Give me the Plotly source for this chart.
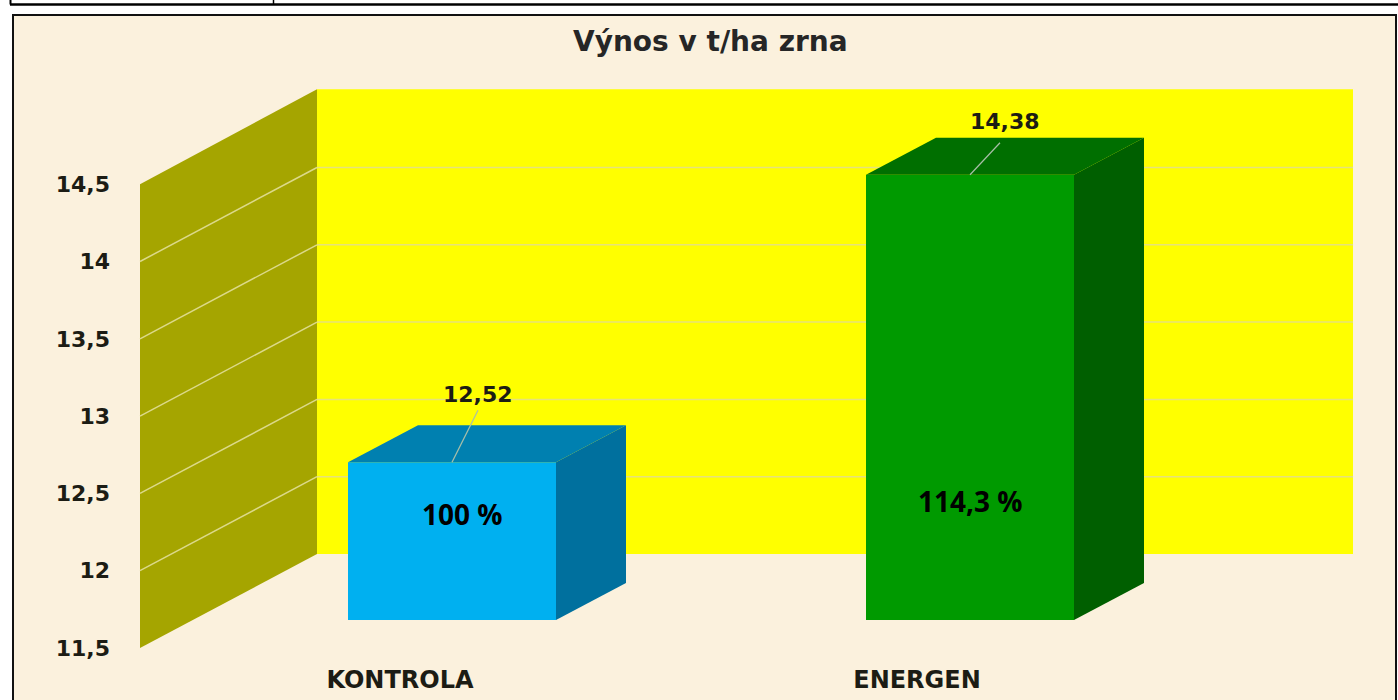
import plotly.graph_objects as go

# --- data ---
categories = ["KONTROLA", "ENERGEN"]
values = [12.52, 14.38]
percent_labels = ["100 %", "114,3 %"]
value_labels = ["12,52", "14,38"]
tick_values = [11.5, 12, 12.5, 13, 13.5, 14, 14.5]
tick_labels = ["11,5", "12", "12,5", "13", "13,5", "14", "14,5"]
front_colors = ["#00b0f0", "#009a00"]
top_colors = ["#0080b0", "#006f00"]
side_colors = ["#00709e", "#005f00"]
title = "Výnos v t/ha zrna"

# --- scales: pixels per x unit / per value unit ---
W, H = 1398, 700
PX_X, PX_Y = 518.0, 154.6
BASE = tick_values[0]
TOP = tick_values[-1]
X0_PX, Y0_PX = 452.0, 620.0      # category 0 / value BASE in the bar plane
ux = lambda px: px / PX_X
uy = lambda px: px / PX_Y

bar_w = ux(208)
bar_dx, bar_dy = ux(70), uy(37)
wall_x = ux(140 - X0_PX)
wall_lift = uy(28)                # front edge of wall lies below the bar plane
wall_dx, wall_dy = ux(177), uy(94)
back_right = ux(1353 - X0_PX)

WALL = "#a5a500"
BACK = "#ffff00"
GRID_BACK = "#e6e27a"
GRID_WALL = "#dcd98a"
PAPER = "#fbf1dd"
INK = "#1c1c14"
AXFONT = dict(family="DejaVu Sans", size=22, color=INK, weight="bold")

fig = go.Figure()


def poly(xs, ys, color):
    fig.add_trace(go.Scatter(x=xs, y=ys, mode="lines", fill="toself", fillcolor=color,
                             line=dict(width=0, color=color), hoverinfo="skip", showlegend=False))


def line(xs, ys, color, width=1.5):
    fig.add_trace(go.Scatter(x=xs, y=ys, mode="lines", line=dict(color=color, width=width),
                             hoverinfo="skip", showlegend=False))


def below_path(xs, ys, fill=None, color=None, width=0):
    d = "M " + " L ".join(f"{x},{y}" for x, y in zip(xs, ys)) + (" Z" if fill else "")
    return dict(type="path", xref="x", yref="y", path=d, layer="below",
                fillcolor=fill if fill else "rgba(0,0,0,0)",
                line=dict(color=color if color else "rgba(0,0,0,0)", width=width))


# walls and grid sit below the bar layer, on the bar-plane axes, shifted for depth
fy = lambda v: v - wall_lift
bx = wall_x + wall_dx
wall_shapes = [
    below_path([bx, back_right, back_right, bx],
               [fy(BASE) + wall_dy, fy(BASE) + wall_dy, fy(TOP) + wall_dy + uy(1), fy(TOP) + wall_dy + uy(1)], fill=BACK),
    below_path([wall_x, bx, bx, wall_x],
               [fy(BASE), fy(BASE) + wall_dy, fy(TOP) + wall_dy + uy(1), fy(TOP)], fill=WALL),
]
for v in tick_values[1:-1]:
    wall_shapes.append(below_path([wall_x, bx], [fy(v), fy(v) + wall_dy], color=GRID_WALL, width=1.5))
for v in tick_values[1:-1]:
    wall_shapes.append(below_path([bx, back_right], [fy(v) + wall_dy, fy(v) + wall_dy], color=GRID_BACK, width=1.5))

# bars
fig.add_trace(go.Bar(x=[0, 1], y=[v - BASE for v in values], base=BASE, width=bar_w,
                     marker=dict(color=front_colors, line=dict(width=0)),
                     hoverinfo="skip", showlegend=False))
for i, v in enumerate(values):
    l, r = i - bar_w / 2, i + bar_w / 2
    poly([r, r + bar_dx, r + bar_dx, r], [BASE, BASE + bar_dy, v + bar_dy, v], side_colors[i])
    poly([l, r, r + bar_dx, l + bar_dx], [v, v, v + bar_dy, v + bar_dy], top_colors[i])

# leader lines and labels
annotations = []
for i, v in enumerate(values):
    tip_x, tip_y = (ux(26), uy(52)) if i == 0 else (ux(30), uy(32))
    line([i, i + tip_x], [v, v + tip_y], "#a9bfa8", 1.2)
    annotations.append(dict(x=i + ux(26 if i == 0 else 35), y=v + uy(68 if i == 0 else 53),
                            text=value_labels[i], showarrow=False,
                            font=dict(family="DejaVu Sans", size=22, color=INK, weight="bold")))

annotations.append(dict(x=0 + ux(10), y=values[0] - uy(52), text=percent_labels[0], showarrow=False,
                        font=dict(family="Open Sans", size=28, color="#000000", weight="bold")))
annotations.append(dict(x=1, y=values[1] - uy(326), text=percent_labels[1], showarrow=False,
                        font=dict(family="Open Sans", size=28, color="#000000", weight="bold")))
annotations.append(dict(xref="paper", yref="paper", x=710 / W, y=1 - 41 / H, text=title, showarrow=False,
                        xanchor="center", yanchor="middle",
                        font=dict(family="DejaVu Sans", size=28, color="#262626", weight="bold")))

# invisible trace carrying the label axes
fig.add_trace(go.Scatter(x=[0, 1], y=tick_values[:2], xaxis="x2", yaxis="y2", mode="markers",
                         marker=dict(opacity=0), hoverinfo="skip", showlegend=False))

fig.update_layout(
    width=W, height=H, autosize=False,
    margin=dict(l=0, r=0, t=0, b=0),
    paper_bgcolor="#ffffff", plot_bgcolor="rgba(0,0,0,0)",
    showlegend=False, barmode="overlay",
    xaxis=dict(visible=False, domain=[0, 1], range=[ux(-X0_PX), ux(W - X0_PX)], fixedrange=True),
    yaxis=dict(visible=False, domain=[0, 1], range=[BASE - uy(H - Y0_PX), BASE + uy(Y0_PX)], fixedrange=True),
    xaxis2=dict(overlaying="x", anchor="free", position=1 - 663 / H, side="bottom",
                range=[-400 / 517, (W - 400) / 517], tickvals=[0, 1], ticktext=categories,
                tickfont=dict(family="DejaVu Sans", size=24, color=INK, weight="bold"),
                ticks="", showgrid=False, zeroline=False, showline=False, fixedrange=True),
    yaxis2=dict(overlaying="y", anchor="free", position=110 / W, side="left",
                range=[BASE - uy(H - 648), BASE + uy(648)], tickvals=tick_values, ticktext=tick_labels,
                tickfont=AXFONT, ticks="", showgrid=False, zeroline=False, showline=False, fixedrange=True),
    annotations=annotations,
    shapes=[
        dict(type="rect", xref="paper", yref="paper", x0=13 / W, x1=1396 / W, y0=-0.01, y1=1 - 15 / H,
             fillcolor=PAPER, line=dict(color="#111111", width=2), layer="below"),
        *wall_shapes,
        dict(type="line", xref="paper", yref="paper", x0=10 / W, x1=1, y0=1 - 4.5 / H, y1=1 - 4.5 / H,
             line=dict(color="#000000", width=2.5)),
        dict(type="line", xref="paper", yref="paper", x0=10.5 / W, x1=10.5 / W, y0=1 - 4.5 / H, y1=1,
             line=dict(color="#000000", width=2)),
        dict(type="line", xref="paper", yref="paper", x0=273.5 / W, x1=273.5 / W, y0=1 - 4.5 / H, y1=1,
             line=dict(color="#000000", width=1.5)),
    ],
)

fig.write_html("out.html", config=dict(displayModeBar=False),
               post_script="document.body.style.margin='0';document.body.style.overflow='hidden';")
